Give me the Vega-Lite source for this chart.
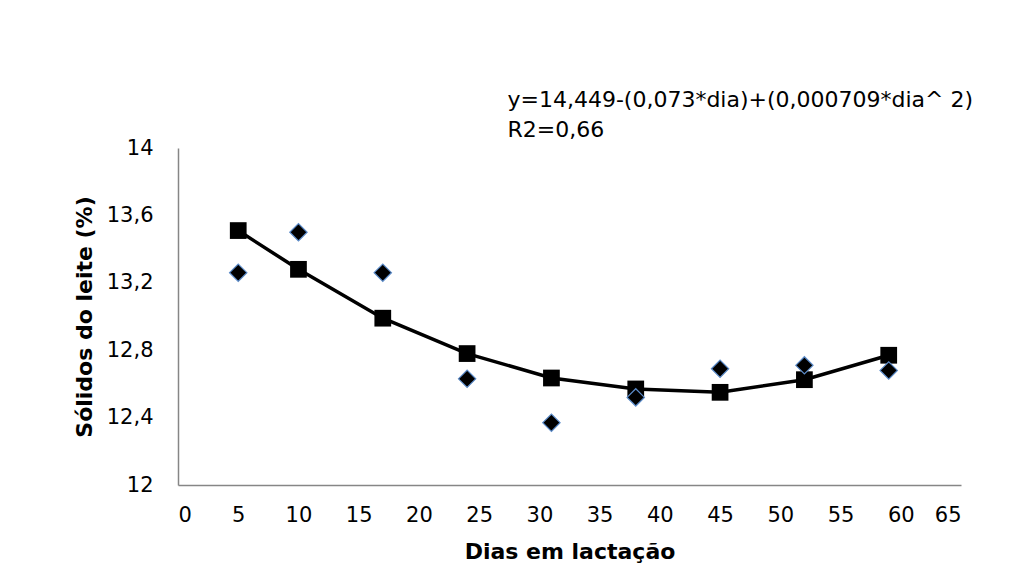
{
  "$schema": "https://vega.github.io/schema/vega-lite/v6.json",
  "width": 783,
  "height": 337,
  "autosize": {"type": "none"},
  "padding": {"left": 178, "top": 148, "right": 75, "bottom": 103},
  "background": "white",
  "config": {
    "view": {"stroke": null},
    "font": "DejaVu Sans",
    "axis": {
      "grid": false,
      "ticks": false,
      "tickSize": 0,
      "domainColor": "#868686",
      "domainWidth": 1.5,
      "labelFont": "DejaVu Sans",
      "labelFontSize": 21,
      "labelColor": "#000000",
      "titleFont": "DejaVu Sans",
      "titleFontSize": 22,
      "titleFontWeight": "bold",
      "titleColor": "#000000"
    }
  },
  "datasets": {
    "obs": [
      {"dia": 5, "solidos": 13.26},
      {"dia": 10, "solidos": 13.5},
      {"dia": 17, "solidos": 13.26},
      {"dia": 24, "solidos": 12.63},
      {"dia": 31, "solidos": 12.37},
      {"dia": 38, "solidos": 12.52},
      {"dia": 45, "solidos": 12.69},
      {"dia": 52, "solidos": 12.71},
      {"dia": 59, "solidos": 12.68}
    ],
    "fit": [
      {"dia": 5, "solidos": 13.51},
      {"dia": 10, "solidos": 13.28},
      {"dia": 17, "solidos": 12.99},
      {"dia": 24, "solidos": 12.78},
      {"dia": 31, "solidos": 12.635},
      {"dia": 38, "solidos": 12.57},
      {"dia": 45, "solidos": 12.55},
      {"dia": 52, "solidos": 12.625},
      {"dia": 59, "solidos": 12.77}
    ],
    "eq": [
      {"dia": 27.35, "solidos": 14.243, "label": "y=14,449-(0,073*dia)+(0,000709*dia^ 2)"},
      {"dia": 27.35, "solidos": 14.065, "label": "R2=0,66"}
    ]
  },
  "encoding": {
    "x": {
      "field": "dia",
      "type": "quantitative",
      "scale": {"domain": [0, 65], "nice": false, "zero": false},
      "axis": {
        "values": [0, 5, 10, 15, 20, 25, 30, 35, 40, 45, 50, 55, 60, 65],
        "title": "Dias em lactação",
        "labelPadding": 19,
        "titlePadding": 16
      }
    },
    "y": {
      "field": "solidos",
      "type": "quantitative",
      "scale": {"domain": [12, 14], "nice": false, "zero": false},
      "axis": {
        "values": [12, 12.4, 12.8, 13.2, 13.6, 14],
        "labelExpr": "replace(toString(datum.value), '.', ',')",
        "title": "Sólidos do leite (%)",
        "labelPadding": 25,
        "titlePadding": 10
      }
    }
  },
  "layer": [
    {
      "data": {"name": "fit"},
      "mark": {"type": "line", "color": "#000000", "strokeWidth": 3.5}
    },
    {
      "data": {"name": "fit"},
      "mark": {"type": "point", "shape": "square", "filled": true, "color": "#000000", "size": 280, "opacity": 1}
    },
    {
      "data": {"name": "obs"},
      "mark": {"type": "point", "shape": "diamond", "filled": true, "fill": "#000000", "stroke": "#5B8BC9", "strokeWidth": 1.2, "size": 300, "opacity": 1}
    },
    {
      "data": {"name": "eq"},
      "mark": {"type": "text", "align": "left", "baseline": "alphabetic", "font": "DejaVu Sans", "fontSize": 22, "color": "#000000"},
      "encoding": {"text": {"field": "label"}}
    }
  ]
}
